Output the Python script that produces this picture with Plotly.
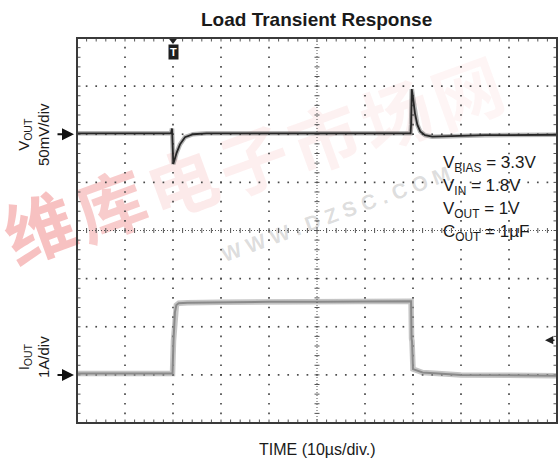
import plotly.graph_objects as go

# ---------------- data ----------------
# time in microseconds (10 us/div, 10 divisions)
vout_t = [0, 10, 19.6, 19.8, 19.9, 20.06, 20.77, 21.46, 22.5, 24.2, 27, 40, 55, 69.5,
          69.6, 69.75, 70.0, 70.4, 70.9, 71.5, 72.5, 74, 78, 85, 100]
# output voltage deviation in mV (50 mV/div)
vout_mv = [1, 1, 1, 6, -15, -31, -19, -10.5, -3, 0, 1, 1, 1, 1,
           10, 47, 38, 22, 10, 3, -1, -2.5, -2, -1, -0.5]

iout_t = [0, 10, 19.9, 20.1, 20.4, 20.7, 21.2, 23, 30, 40, 50, 60, 69.6,
          69.7, 69.8, 70.0, 72, 80, 100]
# load current in A (1 A/div)
iout_a = [0.03, 0.03, 0.03, 0.7, 1.3, 1.45, 1.49, 1.5, 1.51, 1.52, 1.52, 1.53, 1.53,
          0.75, 0.7, 0.12, 0.05, 0.0, -0.02]

cond_labels = ["V<sub>BIAS</sub> = 3.3V", "V<sub>IN</sub> = 1.8V",
               "V<sub>OUT</sub> = 1V", "C<sub>OUT</sub> = 1µF"]

title_text = "<b>Load Transient Response</b>"
xlabel = "TIME (10µs/div.)"
vlabel = "V<sub>OUT</sub><br>50mV/div"
ilabel = "I<sub>OUT</sub><br>1A/div"

# ---------------- screen geometry ----------------
W, H = 558, 462
REF_L, REF_T, PW, PH = 77, 38, 480, 385
ML, MT = REF_L, REF_T
MR, MB = W - ML - PW, H - MT - PH
REF_B = REF_T + PH
NX, NY = 10, 8
T_DIV, V_DIV, I_DIV = 10.0, 50.0, 1.0
V_LO = -6 * V_DIV          # VOUT baseline at 6th division
I_LO = -1 * I_DIV          # IOUT baseline at 1st division


def xd(d):   # division -> us
    return d * T_DIV


def yd(d):   # division -> mV on main axis
    return V_LO + d * V_DIV


def px2paper_x(px):   # reference-picture pixel -> paper
    return (px - REF_L) / PW


def px2paper_y(py):
    return (REF_B - py) / PH


GRID = "#4a4a4a"
fig = go.Figure()

# ---------- watermark (faint, under everything) ----------
wm_chars = ["维", "库", "电", "子", "市", "场", "网"]
wm_alpha = [0.30, 0.25, 0.10, 0.08, 0.07, 0.06, 0.05]
x0, y0, x1, y1 = 42, 235, 470, 100
shapes = []
for i, ch in enumerate(wm_chars):
    f = i / (len(wm_chars) - 1)
    cx = x0 + (x1 - x0) * f
    cy = y0 + (y1 - y0) * f
    shapes.append(dict(type="rect", xref="paper", yref="paper",
                       x0=px2paper_x(cx) - 0.001, x1=px2paper_x(cx) + 0.001,
                       y0=px2paper_y(cy) - 0.001, y1=px2paper_y(cy) + 0.001,
                       line=dict(width=0), fillcolor="rgba(0,0,0,0)", layer="below",
                       label=dict(text=f"<b>{ch}</b>", textangle=-20,
                                  textposition="middle center",
                                  font=dict(size=70, color=f"rgba(228,50,50,{wm_alpha[i]})",
                                            family="Noto Sans CJK SC"))))
shapes.append(dict(type="rect", xref="paper", yref="paper",
                   x0=px2paper_x(335) - 0.001, x1=px2paper_x(335) + 0.001,
                   y0=px2paper_y(212) - 0.001, y1=px2paper_y(212) + 0.001,
                   line=dict(width=0), fillcolor="rgba(0,0,0,0)", layer="below",
                   label=dict(text="<b>W W W . D Z S C . C O M</b>", textangle=-20,
                              textposition="middle center",
                              font=dict(size=21, color="rgba(150,150,150,0.33)",
                                        family="Liberation Sans"))))

# ---------- graticule dots ----------
gx, gy = [], []
for k in range(1, NX):
    if k == NX // 2:
        continue
    for m in range(0, NY * 5 + 1):
        gx.append(xd(k)); gy.append(yd(m / 5))
for j in range(1, NY):
    if j == NY // 2:
        continue
    for m in range(0, NX * 5 + 1):
        gx.append(xd(m / 5)); gy.append(yd(j))
fig.add_trace(go.Scatter(x=gx, y=gy, mode="markers", hoverinfo="skip",
                         marker=dict(symbol="square", size=1.7, color=GRID, line=dict(width=0)),
                         showlegend=False))

# ---------- center crosshair ----------
shapes.append(dict(type="line", xref="x", yref="y", x0=xd(5), x1=xd(5), y0=yd(0), y1=yd(NY),
                   line=dict(color="#555", width=1, dash="1px,2px")))
shapes.append(dict(type="line", xref="x", yref="y", x0=xd(0), x1=xd(NX), y0=yd(4), y1=yd(4),
                   line=dict(color="#555", width=1, dash="1px,2px")))
tx, ty = [], []
hx = 2.5 / (PW / NX)   # half tick length in divisions
hy = 2.5 / (PH / NY)
for m in range(1, NY * 5):
    tx += [xd(5 - hx), xd(5 + hx), None]; ty += [yd(m / 5), yd(m / 5), None]
for m in range(1, NX * 5):
    tx += [xd(m / 5), xd(m / 5), None]; ty += [yd(4 - hy), yd(4 + hy), None]
# border ticks (pointing inward)
bl_x = 3.5 / (PW / NX)
bl_y = 3.5 / (PH / NY)
for m in range(1, NX * 5):
    tx += [xd(m / 5), xd(m / 5), None]; ty += [yd(NY), yd(NY - bl_y), None]
    tx += [xd(m / 5), xd(m / 5), None]; ty += [yd(0), yd(bl_y), None]
for m in range(1, NY * 5):
    tx += [xd(0), xd(bl_x), None]; ty += [yd(m / 5), yd(m / 5), None]
    tx += [xd(NX), xd(NX - bl_x), None]; ty += [yd(m / 5), yd(m / 5), None]
fig.add_trace(go.Scatter(x=tx, y=ty, mode="lines", hoverinfo="skip",
                         line=dict(color="#555", width=1), showlegend=False))

# ---------- traces ----------
fig.add_trace(go.Scatter(x=iout_t, y=iout_a, yaxis="y2", mode="lines", hoverinfo="skip",
                         line=dict(color="rgba(140,140,140,0.5)", width=5.5), showlegend=False))
fig.add_trace(go.Scatter(x=iout_t, y=iout_a, yaxis="y2", mode="lines", hoverinfo="skip",
                         line=dict(color="#8a8a8a", width=2), showlegend=False))
fig.add_trace(go.Scatter(x=vout_t, y=vout_mv, mode="lines", hoverinfo="skip",
                         line=dict(color="rgba(90,90,90,0.45)", width=4.5), showlegend=False))
fig.add_trace(go.Scatter(x=vout_t, y=vout_mv, mode="lines", hoverinfo="skip",
                         line=dict(color="#262626", width=1.8), showlegend=False))

# trigger marker triangle
fig.add_trace(go.Scatter(x=[xd(2)], y=[yd(NY) - 2], mode="markers", cliponaxis=False,
                         hoverinfo="skip", showlegend=False,
                         marker=dict(symbol="triangle-down", size=8, color="#222")))

# border
shapes.append(dict(type="rect", xref="paper", yref="paper", x0=0, x1=1, y0=0, y1=1,
                   line=dict(color="#3a3a3a", width=2)))

FONT = "Liberation Sans"
ann = []
ann.append(dict(text=title_text, xref="paper", yref="paper", x=px2paper_x(316.5),
                y=px2paper_y(20), xanchor="center", yanchor="middle", showarrow=False,
                font=dict(family=FONT, size=19, color="#1a1a1a")))
ann.append(dict(text=xlabel, xref="paper", yref="paper", x=px2paper_x(317),
                y=px2paper_y(449), xanchor="center", yanchor="middle", showarrow=False,
                font=dict(family=FONT, size=16, color="#1a1a1a")))
ann.append(dict(text=vlabel, xref="paper", yref="paper", x=px2paper_x(33), y=px2paper_y(135),
                xanchor="center", yanchor="middle", showarrow=False, textangle=-90,
                font=dict(family=FONT, size=15, color="#1a1a1a")))
ann.append(dict(text=ilabel, xref="paper", yref="paper", x=px2paper_x(33), y=px2paper_y(357),
                xanchor="center", yanchor="middle", showarrow=False, textangle=-90,
                font=dict(family=FONT, size=15, color="#1a1a1a")))
# condition text
cond_y = [164, 187, 210, 233]
for txt, py in zip(cond_labels, cond_y):
    ann.append(dict(text=txt, xref="paper", yref="paper", x=px2paper_x(441), y=px2paper_y(py),
                    xanchor="left", yanchor="middle", showarrow=False,
                    font=dict(family=FONT, size=17, color="#1a1a1a")))
# level arrows
ann.append(dict(text="", xref="paper", yref="y", x=px2paper_x(74), y=0,
                ax=-18, ay=0, showarrow=True, arrowhead=2, arrowsize=1.2, arrowwidth=2,
                arrowcolor="#111", standoff=0))
ann.append(dict(text="", xref="paper", yref="y2", x=px2paper_x(74), y=0,
                ax=-18, ay=0, showarrow=True, arrowhead=2, arrowsize=1.2, arrowwidth=2,
                arrowcolor="#111", standoff=0))
ann.append(dict(text="", xref="paper", yref="y2", x=px2paper_x(545), y=0.72,
                ax=11, ay=0, showarrow=True, arrowhead=2, arrowsize=1.1, arrowwidth=1.5,
                arrowcolor="#222", standoff=0))
# trigger "T" badge
ann.append(dict(text="<b>T</b>", xref="x", yref="paper", x=xd(2), y=px2paper_y(52),
                xanchor="center", yanchor="middle", showarrow=False,
                bgcolor="#1e1e1e", borderpad=1,
                font=dict(family=FONT, size=11, color="white")))

fig.update_layout(
    width=W, height=H, margin=dict(l=ML, r=MR, t=MT, b=MB),
    paper_bgcolor="white", plot_bgcolor="white",
    xaxis=dict(range=[0, NX * T_DIV], showgrid=False, zeroline=False, showticklabels=False,
               ticks="", showline=False, fixedrange=True),
    yaxis=dict(range=[V_LO, V_LO + NY * V_DIV], showgrid=False, zeroline=False,
               showticklabels=False, ticks="", showline=False, fixedrange=True),
    yaxis2=dict(range=[I_LO, I_LO + NY * I_DIV], overlaying="y", showgrid=False,
                zeroline=False, showticklabels=False, ticks="", showline=False,
                fixedrange=True),
    shapes=shapes, annotations=ann, showlegend=False,
)

fig.write_html("out.html", config={"displayModeBar": False, "staticPlot": True},
               post_script="document.body.style.margin='0';"
                           "document.body.style.overflow='hidden';")
